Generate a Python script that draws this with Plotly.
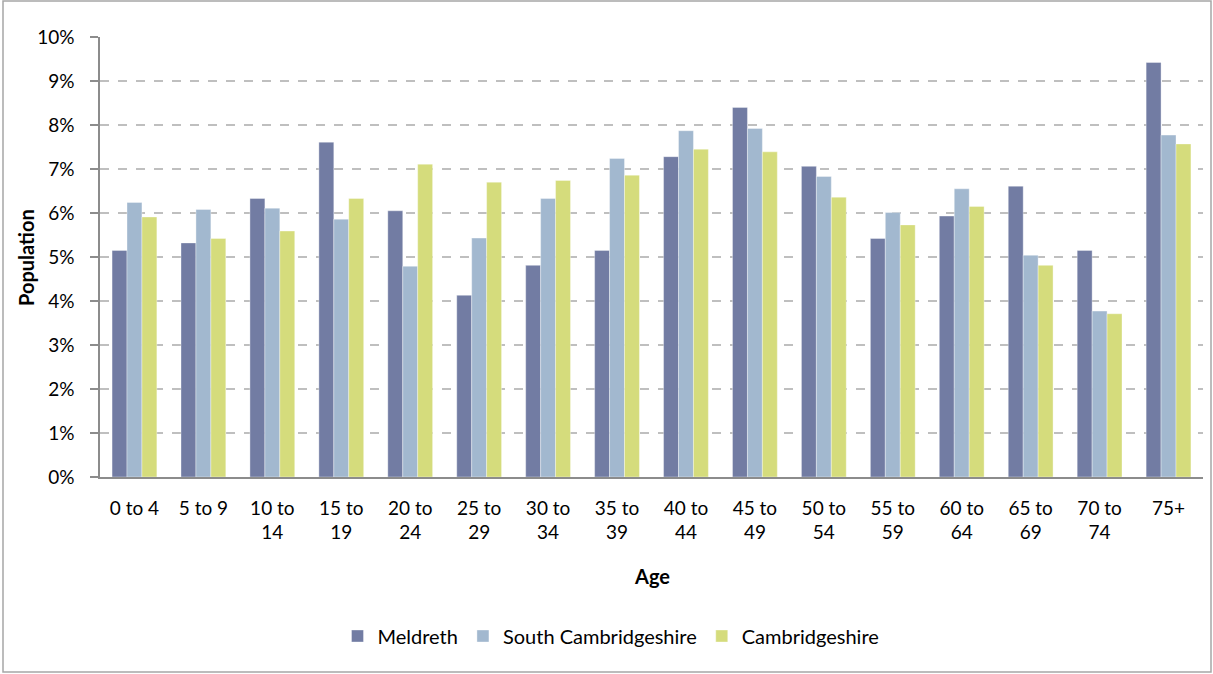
import plotly.graph_objects as go

categories = ["0 to 4", "5 to 9", "10 to<br>14", "15 to<br>19", "20 to<br>24", "25 to<br>29",
              "30 to<br>34", "35 to<br>39", "40 to<br>44", "45 to<br>49", "50 to<br>54",
              "55 to<br>59", "60 to<br>64", "65 to<br>69", "70 to<br>74", "75+"]
meldreth = [5.15, 5.32, 6.33, 7.61, 6.05, 4.13, 4.81, 5.15, 7.28, 8.40, 7.06, 5.42, 5.93, 6.61, 5.15, 9.42]
south_cambs = [6.24, 6.08, 6.11, 5.86, 4.79, 5.43, 6.33, 7.24, 7.87, 7.92, 6.83, 6.01, 6.55, 5.04, 3.77, 7.77]
cambs = [5.91, 5.42, 5.59, 6.33, 7.11, 6.70, 6.74, 6.86, 7.45, 7.39, 6.36, 5.73, 6.15, 4.81, 3.71, 7.57]
y_ticks = list(range(0, 11))
y_ticklabels = [f"{v}%" for v in y_ticks]

series = [("Meldreth", meldreth, "#727CA3"),
          ("South Cambridgeshire", south_cambs, "#A2B8CF"),
          ("Cambridgeshire", cambs, "#D5DC7C")]

FONT = "Lato"
TS = 19
fig = go.Figure()
for name, vals, col in series:
    fig.add_trace(go.Bar(x=categories, y=vals, name=name,
                         marker=dict(color=col, line=dict(color="rgba(255,255,255,0.6)", width=0.6))))

W, H = 1213, 674
L, R, T, B = 100, 10, 37, 197
pw, ph = W - L - R, H - T - B

fig.update_layout(
    width=W, height=H,
    margin=dict(l=L, r=R, t=T, b=B),
    paper_bgcolor="white", plot_bgcolor="white",
    barmode="group", bargap=0.35, bargroupgap=0,
    font=dict(family=FONT, size=TS, color="#000000"),
    showlegend=True,
    legend=dict(orientation="h", x=(611 - L) / pw, xanchor="center",
                y=-(636 - (T + ph)) / ph, yanchor="middle",
                font=dict(family=FONT, size=20), itemwidth=30,
                traceorder="normal"),
    xaxis=dict(showline=True, linecolor="#8C8C8C", linewidth=1.5, ticks="",
               tickfont=dict(family=FONT, size=TS), showgrid=False,
               ticklabelstandoff=13),
    yaxis=dict(range=[0, 10], tickvals=y_ticks, ticktext=y_ticklabels,
               showline=True, linecolor="#8C8C8C", linewidth=1.5,
               ticks="outside", ticklen=8, tickcolor="#8C8C8C", tickwidth=1.5,
               showgrid=True, gridcolor="#BFBFBF", gridwidth=1.5, griddash="dash",
               tickfont=dict(family=FONT, size=TS), zeroline=False,
               ticklabelstandoff=12),
    annotations=[
        dict(text="<b>Age</b>", xref="paper", yref="paper", x=0.5,
             y=-(576 - (T + ph)) / ph, showarrow=False, font=dict(family=FONT, size=20),
             xanchor="center", yanchor="middle"),
        dict(text="<b>Population</b>", xref="paper", yref="paper", x=(26 - L) / pw,
             y=0.5, textangle=-90, showarrow=False, font=dict(family=FONT, size=20),
             xanchor="center", yanchor="middle"),
    ],
    shapes=[dict(type="rect", xref="paper", yref="paper",
                 x0=(3 - L) / pw, x1=(1211 - L) / pw,
                 y0=-(672 - (T + ph)) / ph, y1=((T + ph) - 1) / ph,
                 line=dict(color="#A6A6A6", width=1.5), fillcolor="rgba(0,0,0,0)", layer="below")],
)

fig.write_html("out.html", config={"displayModeBar": False},
               post_script="document.body.style.margin='0';document.body.style.overflow='hidden';")
